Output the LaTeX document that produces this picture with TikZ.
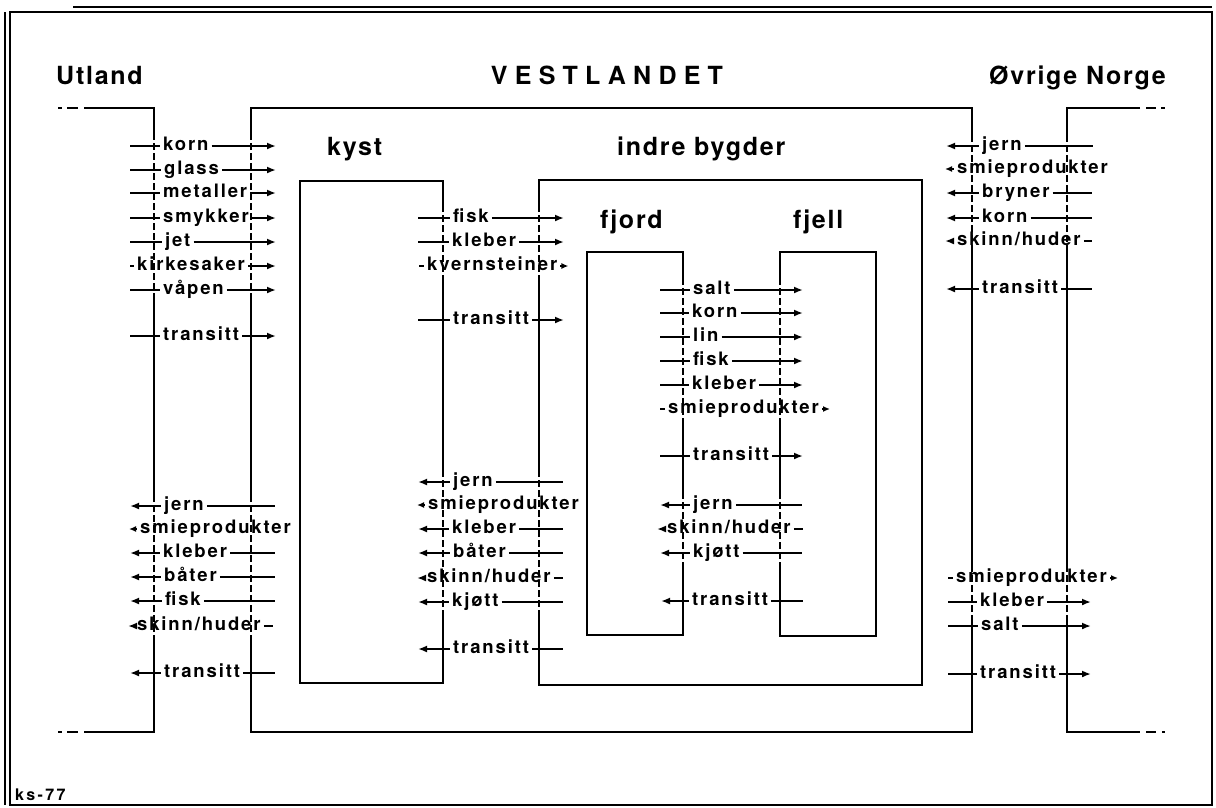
\documentclass[tikz,border=0pt]{standalone}
\usepackage{fontspec}
\usetikzlibrary{arrows.meta}
\newfontfamily\labfam[LetterSpace=10]{TeX Gyre Heros}
\newfontfamily\titfam[LetterSpace=7]{TeX Gyre Heros}
\newfontfamily\vestfam[LetterSpace=29]{TeX Gyre Heros}
\newfontfamily\ksfam[LetterSpace=15]{TeX Gyre Heros}
\tikzset{
  box/.style={line width=2pt},
  boxd/.style={line width=2pt, dash pattern=on 7pt off 3pt},
  flow/.style={line width=1.8pt},
  tipR/.style={flow, -{Latex[length=9pt,width=7pt]}},
  tipL/.style={flow, {Latex[length=9pt,width=7pt]}-},
  tipRs/.style={flow, -{Latex[length=7pt,width=6pt]}},
  tipLs/.style={flow, {Latex[length=7pt,width=6pt]}-},
  lab/.style={font=\labfam\bfseries\fontsize{18.5}{20}\selectfont, anchor=west,
    inner xsep=3pt, inner ysep=0pt, text height=13pt, text depth=4pt},
  title/.style={font=\titfam\bfseries\fontsize{25}{28}\selectfont, inner sep=0pt, anchor=base west},
  frame/.style={line width=1.4pt}
}
\newcommand\flowR[6]{%
  \coordinate (#1s) at (#3,#2);
  \coordinate (#1e) at (#5,#2);
  \node[lab] (#1) at (#4,#2) {#6};
  \draw[flow] (#1s) -- (#1.west);
  \draw[tipR] (#1.east) -- (#1e);}
\newcommand\flowRs[5]{%
  \coordinate (#1s) at (#3,#2);
  \node[lab] (#1) at (#4,#2) {#5};
  \coordinate (#1e) at ([xshift=8pt]#1.east);
  \draw[flow] (#1s) -- (#1.west);
  \draw[tipRs] (#1.east) -- (#1e);}
\newcommand\flowL[6]{%
  \coordinate (#1s) at (#3,#2);
  \coordinate (#1e) at (#5,#2);
  \node[lab] (#1) at (#4,#2) {#6};
  \draw[tipL] (#1s) -- (#1.west);
  \draw[flow] (#1.east) -- (#1e);}
\newcommand\flowLn[5]{%
  \coordinate (#1s) at (#3,#2);
  \node[lab] (#1) at (#4,#2) {#5};
  \draw[tipLs] (#1s) -- (#1.west);}
\begin{document}
\begin{tikzpicture}[x=1pt,y=-1pt]
\useasboundingbox (0,0) rectangle (1216,807);
\fill[white] (0,0) rectangle (1216,807);
% frame
\draw[frame] (10,12) rectangle (1212,805);
\draw[frame] (5,12) -- (5,805);
\draw[frame] (73,7) -- (1212,7);
% titles
\node[title] (utland) at (56,84) {Utland};
\node[font=\vestfam\bfseries\fontsize{25}{28}\selectfont, inner sep=0pt, anchor=base] (vest) at (607,84) {VESTLANDET};
\node[title, anchor=base east] (ovrige) at (1166,84) {Øvrige Norge};
\node[title] (kyst) at (327,155) {kyst};
\node[title] (indre) at (617,155) {indre bygder};
\node[title] (fjord) at (600,228) {fjord};
\node[title] (fjell) at (793,228) {fjell};
\node[font=\ksfam\bfseries\fontsize{16}{18}\selectfont, inner sep=0pt, anchor=base west] (ks) at (15,800) {ks-77};
% Utland
\draw[box] (58,108) -- (62,108);
\draw[box] (67,108) -- (78,108);
\draw[box] (84,108) -- (154,108) -- (154,133);
\draw[boxd] (154,133) -- (154,300);
\draw[box] (154,300) -- (154,495);
\draw[boxd] (154,495) -- (154,635);
\draw[box] (154,635) -- (154,732) -- (84,732);
\draw[box] (58,732) -- (62,732);
\draw[box] (67,732) -- (78,732);
% Vestlandet
\draw[box] (251,133) -- (251,108) -- (972,108) -- (972,135);
\draw[boxd] (251,133) -- (251,300);
\draw[box] (251,300) -- (251,495);
\draw[boxd] (251,495) -- (251,635);
\draw[box] (251,635) -- (251,732) -- (972,732) -- (972,615);
\draw[boxd] (972,135) -- (972,250);
\draw[box] (972,250) -- (972,565);
\draw[boxd] (972,565) -- (972,615);
% Ovrige Norge
\draw[box] (1140,108) -- (1067,108) -- (1067,135);
\draw[box] (1146,108) -- (1156,108);
\draw[box] (1161,108) -- (1165,108);
\draw[boxd] (1067,135) -- (1067,250);
\draw[box] (1067,250) -- (1067,565);
\draw[boxd] (1067,565) -- (1067,615);
\draw[box] (1067,615) -- (1067,732) -- (1140,732);
\draw[box] (1146,732) -- (1156,732);
\draw[box] (1162,732) -- (1165,732);
% kyst
\draw[box] (443,205) -- (443,181) -- (300,181) -- (300,683) -- (443,683) -- (443,615);
\draw[boxd] (443,205) -- (443,280);
\draw[box] (443,280) -- (443,470);
\draw[boxd] (443,470) -- (443,615);
% indre bygder
\draw[box] (539,205) -- (539,180) -- (922,180) -- (922,685) -- (539,685) -- (539,615);
\draw[boxd] (539,205) -- (539,280);
\draw[box] (539,280) -- (539,470);
\draw[boxd] (539,470) -- (539,615);
% fjord
\draw[box] (683,278) -- (683,252) -- (587,252) -- (587,635) -- (683,635) -- (683,565);
\draw[boxd] (683,278) -- (683,420);
\draw[box] (683,420) -- (683,492);
\draw[boxd] (683,492) -- (683,565);
% fjell
\draw[box] (780,278) -- (780,252) -- (876,252) -- (876,636) -- (780,636) -- (780,565);
\draw[boxd] (780,278) -- (780,420);
\draw[box] (780,420) -- (780,492);
\draw[boxd] (780,492) -- (780,565);
% Group A: Utland -> kyst
\flowR{A1}{146}{130}{160}{276}{korn}
\flowR{A2}{170}{130}{161}{276}{glass}
\flowR{A3}{193}{130}{160}{276}{metaller}
\flowR{A4}{218}{130}{160}{276}{smykker}
\flowR{A5}{242}{130}{162}{276}{jet}
\flowR{A6}{266}{130}{134}{276}{kirkesaker}
\flowR{A7}{290}{130}{160}{276}{våpen}
\flowR{A8}{336}{130}{160}{276}{transitt}
% Group B: kyst -> Utland
\flowL{B1}{506}{130}{161}{275}{jern}
\flowLn{B2}{529}{129}{137}{smieprodukter}
\flowL{B3}{553}{130}{160}{275}{kleber}
\flowL{B4}{577}{130}{161}{275}{båter}
\flowL{B5}{601}{130}{162}{275}{fisk}
\flowL{B6}{626}{128}{134}{273}{skinn/huder}
\flowL{B7}{673}{130}{161}{275}{transitt}
% Group C: kyst -> indre bygder
\flowR{C1}{218}{418}{450}{564}{fisk}
\flowR{C2}{242}{418}{449}{564}{kleber}
\flowRs{C3}{266}{419}{424}{kvernsteiner}
\flowR{C4}{320}{418}{450}{564}{transitt}
% Group D: indre bygder -> kyst
\flowL{D1}{482}{418}{450}{563}{jern}
\flowLn{D2}{505}{417}{425}{smieprodukter}
\flowL{D3}{529}{418}{449}{563}{kleber}
\flowL{D4}{553}{418}{450}{563}{båter}
\flowL{D5}{578}{417}{424}{563}{skinn/huder}
\flowL{D6}{602}{418}{449}{563}{kjøtt}
\flowL{D7}{649}{418}{450}{563}{transitt}
% Group E: fjord -> fjell
\flowR{E1}{290}{660}{690}{803}{salt}
\flowR{E2}{313}{660}{689}{803}{korn}
\flowR{E3}{337}{660}{690}{803}{lin}
\flowR{E4}{361}{660}{690}{803}{fisk}
\flowR{E5}{385}{660}{689}{803}{kleber}
\flowRs{E6}{409}{660}{665}{smieprodukter}
\flowR{E7}{456}{660}{690}{803}{transitt}
% Group F: fjell -> fjord
\flowL{F1}{505}{660}{690}{802}{jern}
\flowL{F2}{529}{657}{664}{803}{skinn/huder}
\flowL{F3}{553}{660}{690}{802}{kjøtt}
\flowL{F4}{601}{661}{689}{803}{transitt}
% Group G: Ovrige Norge -> Vestlandet
\flowL{G1}{146}{946}{979}{1093}{jern}
\flowLn{G2}{169}{945}{954}{smieprodukter}
\flowL{G3}{193}{946}{979}{1092}{bryner}
\flowL{G4}{218}{946}{979}{1092}{korn}
\flowL{G5}{241}{945}{954}{1092}{skinn/huder}
\flowL{G6}{289}{946}{979}{1092}{transitt}
% Group H: Vestlandet -> Ovrige Norge
\flowRs{H1}{578}{948}{953}{smieprodukter}
\flowR{H2}{602}{948}{977}{1091}{kleber}
\flowR{H3}{626}{948}{978}{1091}{salt}
\flowR{H4}{674}{948}{977}{1091}{transitt}
\end{tikzpicture}
\end{document}
